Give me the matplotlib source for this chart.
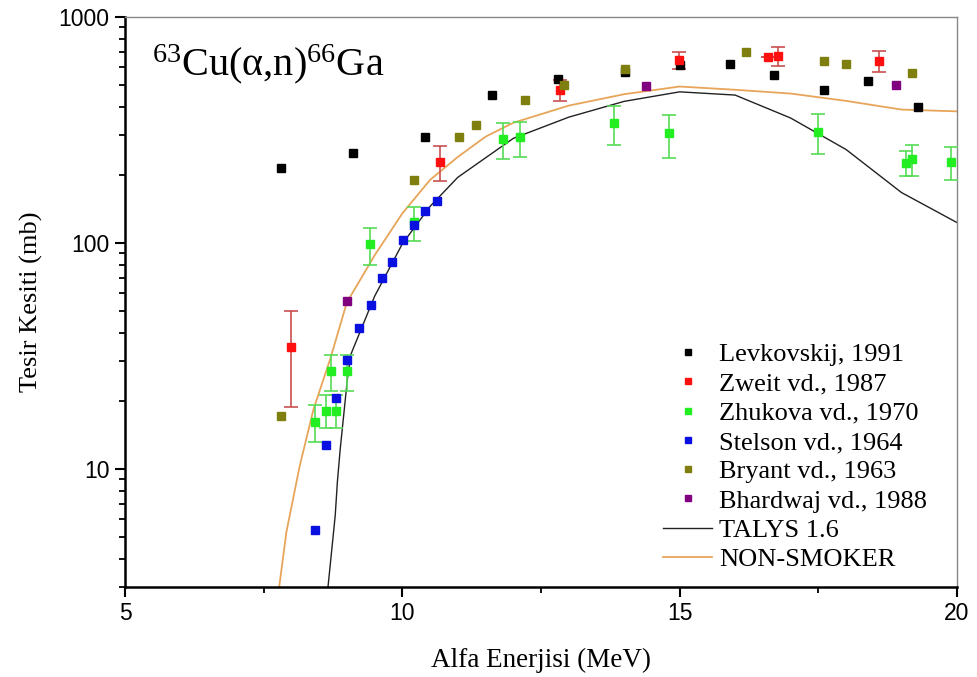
import numpy as np
import matplotlib
matplotlib.use("Agg")
import matplotlib.pyplot as plt
from matplotlib.ticker import FixedLocator, LogLocator, NullFormatter

plt.rcParams['mathtext.fontset'] = 'custom'
plt.rcParams['mathtext.rm'] = 'Liberation Serif'

# --- data ---
levk_e = [7.81, 9.11, 10.41, 11.61, 12.81, 14.01, 15.0, 15.91, 16.70, 17.60, 18.39, 19.29]
levk_s = [215, 251, 293, 449, 532, 570, 615, 616, 551, 474, 523, 399]

zweit_e = [8.00, 10.68, 12.84, 14.99, 16.60, 16.77, 18.60]
zweit_s = [34.5, 228, 476, 646, 666, 673, 640]
zweit_lo = [18.8, 188, 423, 588, 666, 604, 572]
zweit_hi = [49.7, 269, 527, 698, 666, 737, 705]

zhuk_e = [8.43, 8.62, 8.72, 8.81, 9.01, 9.42, 10.21, 11.82, 12.12, 13.81, 14.81, 17.50, 19.09, 19.19, 19.90]
zhuk_s = [16.1, 18.0, 27.1, 18.0, 27.1, 98.5, 124, 288, 293, 338, 305, 310, 225, 236, 227]
zhuk_lo = [13.1, 15.1, 22.0, 15.1, 22.0, 79.8, 102, 234, 240, 272, 238, 247, 197, 197, 189]
zhuk_hi = [19.2, 21.2, 31.9, 21.2, 31.9, 116.8, 144.5, 340, 343, 402, 369, 372, 254, 270, 266]

stel_e = [8.43, 8.62, 8.81, 9.01, 9.22, 9.43, 9.63, 9.81, 10.02, 10.21, 10.41, 10.62]
stel_s = [5.35, 12.7, 20.6, 30.3, 42, 53, 70, 82, 102.6, 120, 139, 154]

bry_e = [7.81, 10.21, 11.02, 11.32, 12.21, 12.91, 14.01, 16.20, 17.60, 18.00, 19.19]
bry_s = [17.1, 189, 293, 331, 429, 499, 588, 696, 635, 620, 564]

bhar_e = [9.01, 14.40, 18.90]
bhar_s = [55.2, 494, 498]

talys_e = [8.66, 8.79, 8.83, 8.88, 9.01, 9.07, 9.5, 10.0, 10.5, 11.0, 12.0, 13.0, 14.0, 15.0, 16.0, 17.0, 18.0, 19.0, 20.0]
talys_s = [3.0, 6.2, 8.8, 12.2, 25, 32, 58, 99, 145, 195, 290, 360, 423, 466, 451, 357, 259, 167, 123]

nons_e = [7.78, 7.91, 8.15, 8.40, 8.70, 9.0, 9.5, 10.0, 10.5, 11.0, 11.5, 12.0, 13.0, 14.0, 15.0, 16.0, 17.0, 18.0, 19.0, 20.0]
nons_s = [3.0, 5.25, 10.3, 18.4, 30.6, 54.5, 88, 135, 190, 240, 295, 340, 405, 455, 492, 476, 458, 425, 389, 382]

serif = 'Liberation Serif'
sans = 'Liberation Sans'

fig = plt.figure(figsize=(9.78, 6.77), dpi=100)
ax = fig.add_axes([0.1278, 0.133, 0.8507, 0.842])

ax.plot(talys_e, talys_s, color='#222222', lw=1.0, zorder=2, label='TALYS 1.6')
ax.plot(nons_e, nons_s, color='#E8A55A', lw=1.3, zorder=2, label='NON-SMOKER')


def err(s, lo, hi):
    s = np.array(s, float)
    return [s - np.array(lo, float), np.array(hi, float) - s]


ax.errorbar(zweit_e, zweit_s, yerr=err(zweit_s, zweit_lo, zweit_hi), fmt='none',
            ecolor='#C85050', elinewidth=1.2, capsize=4.8, capthick=1.2, zorder=3)
ax.errorbar(zhuk_e, zhuk_s, yerr=err(zhuk_s, zhuk_lo, zhuk_hi), fmt='none',
            ecolor='#55DD55', elinewidth=1.2, capsize=4.8, capthick=1.2, zorder=3)

ms = 5.2
h1, = ax.plot(levk_e, levk_s, 's', color='black', ms=ms, ls='none', zorder=4, label='Levkovskij, 1991')
h2, = ax.plot(zweit_e, zweit_s, 's', color='#FF1010', ms=ms, ls='none', zorder=5, label='Zweit vd., 1987')
h3, = ax.plot(zhuk_e, zhuk_s, 's', color='#22EE22', ms=ms, ls='none', zorder=4, label='Zhukova vd., 1970')
h4, = ax.plot(stel_e, stel_s, 's', color='#0A10E0', ms=ms, ls='none', zorder=5, label='Stelson vd., 1964')
h5, = ax.plot(bry_e, bry_s, 's', color='#7F7F10', ms=ms, ls='none', zorder=5, label='Bryant vd., 1963')
h6, = ax.plot(bhar_e, bhar_s, 's', color='#800080', ms=ms, ls='none', zorder=5, label='Bhardwaj vd., 1988')

ax.set_yscale('log')
ax.set_xlim(5, 20)
ax.set_ylim(3, 1000)

ax.xaxis.set_major_locator(FixedLocator([5, 10, 15, 20]))
ax.xaxis.set_minor_locator(FixedLocator([7.5, 12.5, 17.5]))
ax.set_xticklabels(['5', '10', '15', '20'])
ax.yaxis.set_major_locator(FixedLocator([10, 100, 1000]))
ax.yaxis.set_minor_locator(LogLocator(base=10, subs=np.arange(2, 10)))
ax.yaxis.set_minor_formatter(NullFormatter())
ax.set_yticklabels(['10', '100', '1000'])

ax.tick_params(which='major', direction='out', length=7, width=1.5, labelsize=16.5, pad=4)
ax.tick_params(which='minor', direction='out', length=4, width=1.3)
ax.tick_params(top=False, right=False)
for lab in ax.get_xticklabels() + ax.get_yticklabels():
    lab.set_fontfamily(sans)

for side in ['left', 'bottom']:
    ax.spines[side].set_linewidth(1.8)
    ax.spines[side].set_color('black')
for side in ['top', 'right']:
    ax.spines[side].set_linewidth(1.0)
    ax.spines[side].set_color('#888888')

ax.set_xlabel('Alfa Enerjisi (MeV)', fontsize=19.5, fontfamily=serif)
ax.set_ylabel('Tesir Kesiti (mb)', fontsize=19, fontfamily=serif)
ax.xaxis.set_label_coords(0.5, -0.106)
ax.yaxis.set_label_coords(-0.098, 0.5)

ax.text(0.032, 0.898, r'$\mathregular{^{63}}$Cu(α,n)$\mathregular{^{66}}$Ga', transform=ax.transAxes,
        fontsize=29, fontfamily=serif, va='baseline', ha='left')

handles = [h1, h2, h3, h4, h5, h6] + ax.get_lines()[:2]
leg = ax.legend(handles=handles, loc='lower right', bbox_to_anchor=(0.993, -0.014), frameon=False,
                prop={'family': serif, 'size': 19}, numpoints=1, handlelength=1.85,
                handletextpad=0.27, labelspacing=0.22, markerscale=0.75)

fig.savefig('out.png', dpi=100)
